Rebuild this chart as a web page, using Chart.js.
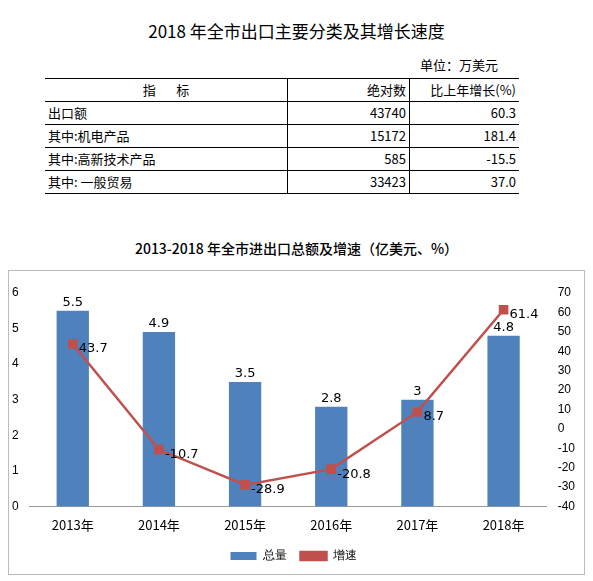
<!DOCTYPE html>
<html><head><meta charset="utf-8">
<script src="https://cdn.jsdelivr.net/npm/chart.js@4"></script>
<style>
body{margin:0;width:593px;height:581px;background:#fff;font-family:"Noto Sans CJK SC","DejaVu Sans",sans-serif;position:relative;overflow:hidden}
#t1{position:absolute;top:18px;left:0;width:593px;text-align:center;font-size:17px;color:#000}
#unit{position:absolute;top:55px;left:420px;font-size:13px}
table{position:absolute;top:78px;left:45px;border-collapse:collapse;font-size:13px}
td{border:1px solid #000;height:22px;padding:0 3px;line-height:22px}
tr:first-child td{border-top:1.5px solid #000}
tr:last-child td{border-bottom:1.5px solid #000}
td:first-child{border-left:none}td:last-child{border-right:none}
#t2{position:absolute;top:238px;left:0;width:593px;text-align:center;font-size:14px;font-weight:500}
#box{position:absolute;left:8px;top:270px;width:577px;height:305px;border:1px solid #bbb;box-sizing:border-box}
</style></head><body>
<div id="t1">2018 年全市出口主要分类及其增长速度</div>
<div id="unit">单位：万美元</div>
<table>
<tr><td style="width:236px;text-align:center">指&nbsp;&nbsp;&nbsp;&nbsp;&nbsp;&nbsp;&nbsp;标</td><td style="width:115px;text-align:right">绝对数</td><td style="width:103px;text-align:right">比上年增长(%)</td></tr>
<tr><td>出口额</td><td style="text-align:right">43740</td><td style="text-align:right">60.3</td></tr>
<tr><td>其中:机电产品</td><td style="text-align:right">15172</td><td style="text-align:right">181.4</td></tr>
<tr><td>其中:高新技术产品</td><td style="text-align:right">585</td><td style="text-align:right">-15.5</td></tr>
<tr><td>其中: 一般贸易</td><td style="text-align:right">33423</td><td style="text-align:right">37.0</td></tr>
</table>
<div id="t2">2013-2018 年全市进出口总额及增速（亿美元、%）</div>
<div id="box"><canvas id="c" width="575" height="303"></canvas></div>
<script>
const categories=["2013年","2014年","2015年","2016年","2017年","2018年"];
const totals=[5.5,4.9,3.5,2.8,3,4.8];
const growth=[43.7,-10.7,-28.9,-20.8,8.7,61.4];
const labelPlugin={id:'lbl',afterDatasetsDraw(ch){const x=ch.ctx;x.save();x.font='13px "DejaVu Sans"';x.fillStyle='#000';
ch.getDatasetMeta(0).data.forEach((b,i)=>{x.textAlign='center';x.fillText(String(totals[i]),b.x,b.y-8);});
ch.getDatasetMeta(1).data.forEach((p,i)=>{x.textAlign='left';x.fillText(String(growth[i]),p.x+6,p.y+5);});x.restore();}};
new Chart(document.getElementById('c'),{data:{labels:categories,datasets:[
{type:'bar',label:'总量',data:totals,backgroundColor:'#4F81BD',yAxisID:'y',barPercentage:0.75,categoryPercentage:0.5,order:2},
{type:'line',label:'增速',data:growth,borderColor:'#C0504D',backgroundColor:'#C0504D',borderWidth:2.5,pointStyle:'rect',pointRadius:5,yAxisID:'y1',order:1}]},
options:{responsive:false,animation:false,layout:{padding:{left:0,right:6,top:22,bottom:2}},
plugins:{legend:{position:'bottom',labels:{boxWidth:26,boxHeight:8,padding:14,font:{size:12},color:'#000',sort:(a,b)=>a.datasetIndex-b.datasetIndex}},tooltip:{enabled:false}},
scales:{x:{grid:{display:false},border:{color:'#999'},ticks:{color:'#000',font:{size:13,family:'"Noto Sans CJK SC"'}}},
y:{min:0,max:6,ticks:{stepSize:1,color:'#000',font:{size:12}},grid:{display:false},border:{display:false}},
y1:{position:'right',min:-40,max:70,ticks:{stepSize:10,color:'#000',font:{size:12}},grid:{display:false},border:{display:false}}}},
plugins:[labelPlugin]});
</script></body></html>
